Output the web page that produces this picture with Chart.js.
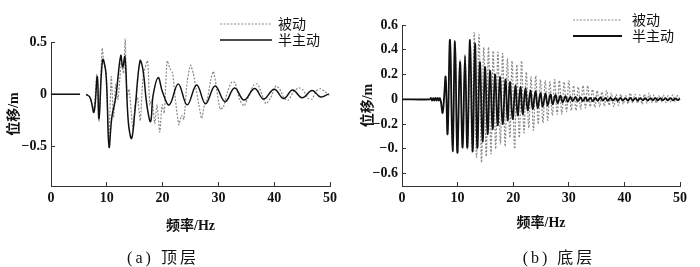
<!DOCTYPE html>
<html>
<head>
<meta charset="utf-8">
<script src="https://cdn.jsdelivr.net/npm/chart.js@4.4.1/dist/chart.umd.min.js"></script>
<style>
  body { margin: 0; background: #fff; width: 700px; height: 267px; position: relative; overflow: hidden; }
  .panel { position: absolute; top: 0; width: 350px; height: 267px; }
  .caption { position: absolute; top: 244px; line-height: 18px; font: 16px "Liberation Serif", "Noto Sans CJK SC", serif; letter-spacing: 3px; color: #111; white-space: nowrap; transform: translateX(-50%); }
</style>
</head>
<body>
<div class="panel" style="left:0"><canvas id="topChart" width="350" height="267"></canvas></div>
<div class="panel" style="left:350px"><canvas id="bottomChart" width="350" height="267"></canvas></div>
<div class="caption" style="left:163px">(a) 顶层</div>
<div class="caption" style="left:559px">(b) 底层</div>
<script>
// axis ticks as printed in the figure
const freqTicks = [0, 10, 20, 30, 40, 50];
const topTicks = [-0.5, 0, 0.5];
const topTickLabels = ['−0.5', '0', '0.5'];
const bottomTicks = [-0.6, -0.4, -0.2, 0, 0.2, 0.4, 0.6];
const bottomTickLabels = ['−0.6', '−0.', '−0.2', '0', '0.2', '0.4', '0.6'];

// (a) top floor - passive
const topPassiveHz = [0, 5.2, 5.7, 6.3, 7.0, 7.7, 8.2, 8.6, 9.15, 9.5, 9.9, 10.35, 10.8, 11.2, 11.6, 12.0, 12.6, 13.0, 13.3, 13.6,
  14.0, 14.7, 15.1, 15.5, 16.0, 16.5, 17.3, 17.7, 18.1, 18.6, 19.0, 19.5, 19.9, 20.3, 20.8, 21.3, 21.8, 22.3, 22.9, 23.4,
  23.8, 24.4, 25.0, 25.5, 26.0, 26.5, 27.0, 27.5, 28.0, 28.6, 29.1, 29.6, 30.3, 30.9, 31.6, 32.4, 33.0, 33.8, 34.6, 35.4,
  36.3, 37.0, 37.8, 38.5, 39.4, 40.3, 41.0, 41.8, 42.5, 43.4, 44.4, 45.2, 46.1, 46.8, 47.5, 48.3, 49.0, 49.9];
const topPassiveDisp = [0, 0, null, 0, -0.03, -0.15, 0.19, -0.26, 0.44, 0.3, 0.2, -0.45, 0.17, -0.22, 0.1, -0.05, 0.3, 0.2, 0.53, -0.03,
  0.05, -0.34, -0.1, -0.03, -0.25, 0.17, 0.32, -0.1, -0.05, -0.28, -0.1, -0.36, -0.1, -0.18, 0.32, 0.25, 0.2, -0.05, -0.29, -0.2,
  -0.24, 0.12, 0.28, 0.2, 0.05, -0.1, -0.23, -0.1, -0.05, 0.13, 0.22, 0.08, -0.14, -0.12, 0.02, 0.12, 0.11, -0.05, -0.11, -0.02,
  0.085, 0.1, 0.0, -0.09, -0.03, 0.08, 0.05, -0.04, -0.057, 0.02, 0.063, 0.04, -0.04, -0.045, 0.03, 0.054, 0.03, -0.01];

// (a) top floor - semi-active
const topActiveHz = [0, 5.2, 5.7, 6.3, 7.0, 7.7, 8.3, 8.6, 9.25, 9.85, 10.4, 10.9, 11.6, 12.5, 12.85, 13.25, 13.85, 14.45, 15.05, 15.95,
  16.5, 17.15, 17.85, 18.3, 19.2, 20.0, 21.2, 22.8, 24.4, 26.1, 27.7, 29.4, 31.2, 32.9, 34.6, 36.5, 38.1, 40.0, 41.7, 43.3,
  45.0, 46.8, 48.3, 49.8];
const topActiveDisp = [0, 0, null, 0, -0.03, -0.17, 0.17, -0.23, 0.33, 0.2, -0.5, -0.22, -0.03, 0.37, 0.26, 0.36, -0.26, -0.42, -0.15, 0.32,
  0.23, -0.09, -0.26, -0.01, 0.16, 0.02, -0.1, 0.1, -0.1, 0.09, -0.09, 0.08, -0.07, 0.06, -0.055, 0.055, -0.045, 0.05, -0.04, 0.042,
  -0.032, 0.036, -0.025, 0.005];

// (b) bottom floor - passive
const bottomPassiveHz = [0, 5.0, 5.2, 5.4, 5.6, 5.8, 6.0, 6.2, 6.4, 6.6, 6.8, 7.0, 7.3, 7.55, 7.85, 8.2, 8.65, 9.1, 9.55, 10.0,
  10.45, 10.9, 11.35, 11.8, 12.25, 12.6, 13.0, 13.4, 13.85, 14.3, 14.7, 15.15, 15.55, 16.0, 16.4, 16.85, 17.25, 17.7, 18.1, 18.55,
  18.95, 19.4, 19.8, 20.25, 20.65, 21.1, 21.5, 21.95, 22.35, 22.8, 23.2, 23.65, 24.05, 24.5, 24.9, 25.35, 25.75, 26.2, 26.6, 27.05,
  27.45, 27.9, 28.3, 28.75, 29.15, 29.6, 30.0, 30.45, 30.85, 31.3, 31.7, 32.15, 32.55, 33.0, 33.4, 33.85, 34.25, 34.7, 35.1, 35.55,
  35.95, 36.4, 36.8, 37.25, 37.65, 38.1, 38.5, 38.95, 39.35, 39.8, 40.2, 40.65, 41.05, 41.5, 41.9, 42.35, 42.75, 43.2, 43.6, 44.05,
  44.45, 44.9, 45.3, 45.75, 46.15, 46.6, 47.0, 47.45, 47.85, 48.3, 48.7, 49.15, 49.55, 50.0];
const bottomPassiveDisp = [0, 0, 0.01, -0.01, 0.01, -0.01, 0.012, -0.01, 0.012, -0.01, 0.01, -0.02, -0.11, 0.0, 0.17, -0.27, 0.46, -0.41, 0.46, -0.44,
  0.32, -0.38, 0.36, -0.40, 0.47, -0.43, 0.54, -0.47, 0.52, -0.51, 0.42, -0.46, 0.42, -0.44, 0.39, -0.40, 0.38, -0.36, 0.37, -0.38,
  0.33, -0.31, 0.31, -0.40, 0.28, -0.31, 0.31, -0.27, 0.22, -0.23, 0.18, -0.25, 0.19, -0.20, 0.16, -0.19, 0.15, -0.17, 0.14, -0.13,
  0.16, -0.12, 0.15, -0.12, 0.14, -0.10, 0.15, -0.09, 0.11, -0.09, 0.10, -0.08, 0.11, -0.07, 0.11, -0.06, 0.08, -0.065, 0.07, -0.06,
  0.06, -0.055, 0.07, -0.05, 0.05, -0.06, 0.04, -0.05, 0.04, -0.04, 0.03, -0.035, 0.05, -0.03, 0.04, -0.03, 0.035, -0.04, 0.04, -0.03,
  0.05, -0.025, 0.035, -0.03, 0.03, -0.02, 0.035, -0.025, 0.03, -0.02, 0.035, -0.02, 0.03, 0.0];

// (b) bottom floor - semi-active
const bottomActiveHz = [0, 5.0, 5.2, 5.4, 5.6, 5.8, 6.0, 6.2, 6.4, 6.6, 6.8, 7.0, 7.3, 7.55, 7.85, 8.2, 8.63, 9.1, 9.53, 9.95,
  10.43, 10.9, 11.33, 11.75, 12.23, 12.7, 13.13, 13.55, 14.0, 14.5, 14.93, 15.4, 15.83, 16.3, 16.73, 17.2, 17.6, 18.1, 18.6, 19.0,
  19.4, 19.9, 20.4, 20.8, 21.3, 21.7, 22.2, 22.6, 23.1, 23.5, 24.0, 24.4, 24.9, 25.3, 25.8, 26.2, 26.7, 27.1, 27.6, 28.0,
  28.5, 28.9, 29.4, 29.8, 30.3, 30.7, 31.2, 31.6, 32.1, 32.5, 33.0, 33.4, 33.9, 34.3, 34.8, 35.2, 35.7, 36.1, 36.6, 37.0,
  37.5, 37.9, 38.4, 38.8, 39.3, 39.7, 40.2, 40.6, 41.1, 41.5, 42.0, 42.4, 42.9, 43.3, 43.8, 44.2, 44.7, 45.1, 45.6, 46.0,
  46.5, 46.9, 47.4, 47.8, 48.3, 48.7, 49.2, 49.6, 50.0];
const bottomActiveDisp = [0, 0, 0.01, -0.01, 0.01, -0.01, 0.012, -0.01, 0.012, -0.01, 0.01, -0.02, -0.11, 0.0, 0.18, -0.28, 0.48, -0.42, 0.47, -0.43,
  0.30, -0.39, 0.35, -0.39, 0.48, -0.42, 0.45, -0.39, 0.30, -0.34, 0.26, -0.28, 0.23, -0.24, 0.20, -0.21, 0.18, -0.20, 0.16, -0.17,
  0.14, -0.16, 0.11, -0.13, 0.10, -0.12, 0.085, -0.09, 0.07, -0.08, 0.065, -0.07, 0.05, -0.06, 0.045, -0.05, 0.04, -0.04, 0.035, -0.03,
  0.03, -0.025, 0.025, -0.02, 0.02, -0.015, 0.02, -0.015, 0.015, -0.015, 0.015, -0.012, 0.012, -0.015, 0.012, -0.012, 0.015, -0.01, 0.012, -0.012,
  0.012, -0.01, 0.01, -0.012, 0.012, -0.01, 0.01, -0.01, 0.012, -0.01, 0.01, -0.01, 0.01, -0.008, 0.01, -0.01, 0.01, -0.008, 0.01, -0.008,
  0.01, -0.008, 0.01, -0.008, 0.01, -0.008, 0.008, -0.006, 0.005];

const tickFont = { family: '"Liberation Serif"', size: 14, weight: 'bold' };
const titleFont = { family: '"Liberation Serif", "Noto Sans CJK SC"', size: 14, weight: 'bold' };

function toPoints(xs, ys) {
  return xs.map((x, i) => ({ x: x, y: ys[i] }));
}

// small legend drawn inside the plot, line sample + label
const lineKey = {
  id: 'lineKey',
  afterDraw(chart, args, opts) {
    const ctx = chart.ctx;
    ctx.save();
    chart.data.datasets.forEach((ds, i) => {
      const y = opts.y + i * opts.gap;
      ctx.beginPath();
      ctx.strokeStyle = ds.borderColor;
      ctx.lineWidth = ds.borderWidth;
      ctx.setLineDash(ds.borderDash || []);
      ctx.moveTo(opts.x1, y);
      ctx.lineTo(opts.x2, y);
      ctx.stroke();
      ctx.setLineDash([]);
      ctx.fillStyle = '#111';
      ctx.font = '14px "Noto Sans CJK SC"';
      ctx.textBaseline = 'middle';
      ctx.fillText(ds.label, opts.textX, y);
    });
    ctx.restore();
  }
};

function drawPanel(canvasId, p) {
  const ctx = document.getElementById(canvasId).getContext('2d');
  return new Chart(ctx, {
    type: 'line',
    data: {
      datasets: [
        {
          label: '被动',
          data: toPoints(p.passiveHz, p.passiveDisp),
          borderColor: '#8a8a8a', borderWidth: 1.2, borderDash: [2, 1.5],
          pointRadius: 0, tension: p.passiveTension, clip: false, spanGaps: false, order: 1
        },
        {
          label: '半主动',
          data: toPoints(p.activeHz, p.activeDisp),
          borderColor: '#111', borderWidth: p.activeWidth,
          pointRadius: 0, tension: 0.4, clip: false, spanGaps: false, order: 0
        }
      ]
    },
    options: {
      responsive: false,
      animation: false,
      layout: { padding: { top: p.top, right: 20, left: 0, bottom: 0 } },
      plugins: {
        legend: { display: false },
        tooltip: { enabled: false },
        lineKey: p.key
      },
      scales: {
        x: {
          type: 'linear', min: 0, max: 50,
          afterFit: s => { s.height = 267 - 186; },
          afterBuildTicks: s => { s.ticks = freqTicks.map(v => ({ value: v })); },
          ticks: { font: tickFont, color: '#111', padding: 8, autoSkip: false, maxRotation: 0 },
          grid: { drawOnChartArea: false, tickLength: -4, color: '#333' },
          border: { color: '#333', width: 1 },
          title: { display: true, text: '频率/Hz', font: titleFont, color: '#111', padding: { top: 0, bottom: p.xTitlePad } }
        },
        y: {
          type: 'linear', min: p.yMin, max: p.yMax,
          afterFit: s => { s.width = p.left; },
          afterBuildTicks: s => { s.ticks = p.ticks.map(v => ({ value: v })); },
          ticks: { font: tickFont, color: '#111', padding: 8, autoSkip: false, callback: (v, i) => p.tickLabels[i] },
          grid: { drawOnChartArea: false, tickLength: -4, color: '#333' },
          border: { color: '#333', width: 1 },
          title: { display: true, text: '位移/m', font: titleFont, color: '#111', padding: { top: p.yTitlePad, bottom: 0 } }
        }
      }
    },
    plugins: [lineKey]
  });
}

drawPanel('topChart', {
  passiveHz: topPassiveHz, passiveDisp: topPassiveDisp,
  activeHz: topActiveHz, activeDisp: topActiveDisp,
  passiveTension: 0.2, activeWidth: 1.5,
  yMin: -0.875, yMax: 0.5, ticks: topTicks, tickLabels: topTickLabels,
  top: 42, left: 51, xTitlePad: 32, yTitlePad: 6,
  key: { x1: 220, x2: 272, textX: 278, y: 24, gap: 16 }
});

drawPanel('bottomChart', {
  passiveHz: bottomPassiveHz, passiveDisp: bottomPassiveDisp,
  activeHz: bottomActiveHz, activeDisp: bottomActiveDisp,
  passiveTension: 0.4, activeWidth: 1.8,
  yMin: -0.7, yMax: 0.6, ticks: bottomTicks, tickLabels: bottomTickLabels,
  top: 25, left: 52, xTitlePad: 35, yTitlePad: 10,
  key: { x1: 223, x2: 272, textX: 282, y: 20, gap: 16 }
});
</script>
</body>
</html>
